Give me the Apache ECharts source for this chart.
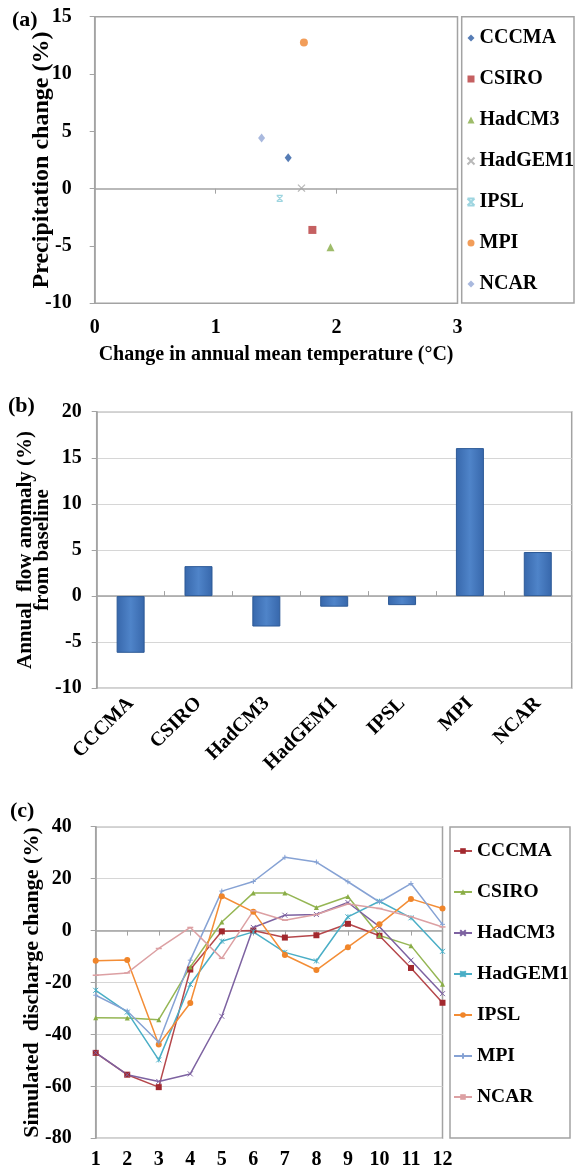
<!DOCTYPE html>
<html>
<head>
<meta charset="utf-8">
<script src="https://cdn.jsdelivr.net/npm/echarts@6.0.0/dist/echarts.min.js"></script>
<style>
  html, body { margin: 0; padding: 0; background: #fff; }
  #pa { position: absolute; left: 0; top: 0; width: 576px; height: 380px; }
  #pb { position: absolute; left: 0; top: 380px; width: 576px; height: 420px; }
  #pc { position: absolute; left: 0; top: 800px; width: 576px; height: 367px; }
</style>
</head>
<body>
<div id="pa"></div>
<div id="pb"></div>
<div id="pc"></div>
<script>
// models, shared by all three panels
var models = ['CCCMA', 'CSIRO', 'HadCM3', 'HadGEM1', 'IPSL', 'MPI', 'NCAR'];

// (a) change in annual mean temperature (degC) and precipitation change (%)
var tempChange = [1.60, 1.80, 1.95, 1.71, 1.53, 1.73, 1.38];
var precipChange = [2.7, -3.6, -5.1, 0.05, -0.85, 12.75, 4.42];

// (b) annual flow anomaly (%) from baseline
var flowAnomaly = [-6.15, 3.25, -3.3, -1.15, -0.98, 16.05, 4.78];

// (c) simulated discharge change (%) by month
var months = ['1', '2', '3', '4', '5', '6', '7', '8', '9', '10', '11', '12'];
var cccma   = [-47.1, -55.5, -60.3, -15.0, -0.3, 0.0, -2.7, -1.8, 2.6, -2.0, -14.4, -27.8];
var csiro   = [-33.6, -33.7, -34.3, -14.0, 3.3, 14.5, 14.5, 8.9, 13.1, -1.9, -5.8, -20.7];
var hadcm3  = [-47.0, -55.5, -58.1, -55.2, -33.0, 1.2, 5.9, 6.2, 10.8, 1.5, -11.4, -24.3];
var hadgem1 = [-23.0, -31.4, -49.8, -20.7, -4.1, -0.5, -8.4, -11.7, 5.3, 11.3, 4.9, -8.0];
var ipsl    = [-11.6, -11.3, -43.9, -27.9, 13.2, 7.2, -9.4, -15.2, -6.4, 2.4, 12.2, 8.5];
var mpi     = [-24.9, -31.0, -43.0, -11.4, 15.2, 18.9, 28.2, 26.4, 18.8, 11.0, 18.1, 2.4];
var ncar    = [-17.2, -16.3, -6.9, 1.2, -10.7, 7.6, 4.0, 6.2, 10.2, 8.5, 5.3, 1.4];

var FONT = '"Liberation Serif", "Times New Roman", serif';
var GRAY = '#a3a3a3';
var txt = function (size) {
    return { fontFamily: FONT, fontWeight: 'bold', fontSize: size, color: '#000' };
};
var axisLine = { show: true, lineStyle: { color: GRAY, width: 1.5 } };
var yTick = { show: true, length: 5, lineStyle: { color: GRAY } };
var gridBox = { show: true, borderColor: GRAY, borderWidth: 1.5, backgroundColor: 'transparent', outerBoundsMode: 'none' };
var panelLabel = function (s, x, y) {
    return { type: 'text', left: x, top: y, style: { text: s, font: 'bold 22px ' + FONT, fill: '#000' } };
};
var box = function (x, y, w, h) {
    return { type: 'rect', shape: { x: x, y: y, width: w, height: h }, style: { fill: 'none', stroke: GRAY, lineWidth: 1.5 }, silent: true };
};

// ---------- (a) scatter ----------
var aColors = ['#2c5ba3', '#b7383a', '#86ab45', '#a6a6a6', '#86cbd8', '#ef8530', '#93a8d6'];
var aSymbols = ['diamond', 'rect', 'triangle',
    'path://M0,0L10,10M10,0L0,10',
    'path://M0,0L10,0M0,10L10,10M0,0L10,10M10,0L0,10',
    'circle', 'diamond'];
var aSizes = [[7, 9], 8, 8, 7, 6, 8, [7, 9]];
var aSeries = models.map(function (m, i) {
    var stroke = aSymbols[i].indexOf('path://') === 0;
    return {
        name: m,
        type: 'scatter',
        data: [[tempChange[i], precipChange[i]]],
        symbol: aSymbols[i],
        symbolSize: aSizes[i],
        itemStyle: stroke
            ? { color: 'none', borderColor: aColors[i], borderWidth: 1.3 }
            : { color: aColors[i] }
    };
});

var chartA = echarts.init(document.getElementById('pa'));
chartA.setOption({
    animation: false,
    grid: Object.assign({ left: 94.7, top: 16.7, width: 362.8, height: 286.6 }, gridBox),
    xAxis: {
        type: 'value', min: 0, max: 3, interval: 1,
        axisLine: { show: true, onZero: true, lineStyle: { color: GRAY, width: 1.5 } },
        axisTick: { show: true, length: 5, lineStyle: { color: GRAY } },
        axisLabel: Object.assign({ margin: 15 }, txt(20)),
        splitLine: { show: false },
        name: 'Change in annual mean temperature (°C)',
        nameLocation: 'middle', nameGap: 42, nameMoveOverlap: false,
        nameTextStyle: txt(20)
    },
    yAxis: {
        type: 'value', min: -10, max: 15, interval: 5,
        axisLine: axisLine,
        axisTick: yTick,
        axisLabel: Object.assign({ margin: 23 }, txt(20)),
        splitLine: { show: false },
        name: 'Precipitation change (%)',
        nameLocation: 'middle', nameRotate: 90, nameGap: 41, nameMoveOverlap: false,
        nameTextStyle: txt(24)
    },
    legend: {
        orient: 'vertical', left: 465, top: 28, padding: 0,
        itemWidth: 7, itemHeight: 7, itemGap: 21,
        textStyle: txt(20),
        data: models
    },
    graphic: [panelLabel('(a)', 12, 9), box(461.7, 16.7, 112.3, 286.3)],
    series: aSeries
});

// ---------- (b) bar ----------
var chartB = echarts.init(document.getElementById('pb'));
chartB.setOption({
    animation: false,
    grid: Object.assign({ left: 96.7, top: 31.7, width: 475, height: 276.6 }, gridBox),
    xAxis: {
        type: 'category', data: models,
        axisLine: { show: true, onZero: true, lineStyle: { color: GRAY, width: 1.5 } },
        axisTick: { show: true, inside: true, length: 5, lineStyle: { color: GRAY } },
        axisLabel: Object.assign({ rotate: 45, margin: 12, interval: 0 }, txt(20))
    },
    yAxis: {
        type: 'value', min: -10, max: 20, interval: 5,
        axisLine: axisLine,
        axisTick: yTick,
        axisLabel: Object.assign({ margin: 15 }, txt(20)),
        splitLine: { show: true, lineStyle: { color: '#d6d6d6', width: 1.2 } },
        name: 'Annual  flow anomaly (%)\nfrom baseline',
        nameLocation: 'middle', nameRotate: 90, nameGap: 46, nameMoveOverlap: false,
        nameTextStyle: Object.assign({ lineHeight: 17 }, txt(21))
    },
    graphic: [panelLabel('(b)', 8, 15)],
    series: [{
        type: 'bar',
        data: flowAnomaly,
        barWidth: 28,
        itemStyle: {
            color: new echarts.graphic.LinearGradient(0, 0, 1, 0, [
                { offset: 0, color: '#3767ab' },
                { offset: 0.5, color: '#4f84c9' },
                { offset: 1, color: '#3767ab' }
            ]),
            borderColor: '#2d5a97',
            borderWidth: 1
        }
    }]
});

// ---------- (c) lines ----------
var cData = [cccma, csiro, hadcm3, hadgem1, ipsl, mpi, ncar];
var cColors = ['#b5474b', '#95b654', '#7d62a1', '#4aaec6', '#f38d36', '#86a2d4', '#dca0a3'];
var cMarker = ['#a2282e', '#8aad47', '#7d62a1', '#4aaec6', '#f0852a', '#86a2d4', '#dca0a3'];
var cSymbols = ['rect', 'triangle',
    'path://M0,0L10,10M10,0L0,10',
    'path://M0,0L10,10M10,0L0,10M5,0L5,10',
    'circle',
    'path://M5,0L5,10M0,5L10,5',
    'rect'];
var cSizes = [6, 5, 5, 5, 6, 5, [6, 1.5]];
var cSeries = models.map(function (m, i) {
    var stroke = cSymbols[i].indexOf('path://') === 0;
    return {
        name: m,
        type: 'line',
        data: cData[i],
        symbol: cSymbols[i],
        symbolSize: cSizes[i],
        showAllSymbol: true,
        lineStyle: { color: cColors[i], width: 1.5 },
        itemStyle: stroke
            ? { color: 'none', borderColor: cMarker[i], borderWidth: 1 }
            : { color: cMarker[i], borderColor: cMarker[i], borderWidth: 0 }
    };
});

var chartC = echarts.init(document.getElementById('pc'));
chartC.setOption({
    animation: false,
    grid: Object.assign({ left: 95.7, top: 26.7, width: 346.8, height: 311.6 }, gridBox),
    xAxis: {
        type: 'category', data: months, boundaryGap: false,
        axisLine: { show: true, onZero: true, lineStyle: { color: GRAY, width: 1.5 } },
        axisTick: { show: true, length: 5, lineStyle: { color: GRAY } },
        axisLabel: Object.assign({ margin: 12, interval: 0 }, txt(20))
    },
    yAxis: {
        type: 'value', min: -80, max: 40, interval: 20,
        axisLine: axisLine,
        axisTick: yTick,
        axisLabel: Object.assign({ margin: 24 }, txt(20)),
        splitLine: { show: true, lineStyle: { color: '#d6d6d6', width: 1.2 } },
        name: 'Simulated  discharge change (%)',
        nameLocation: 'middle', nameRotate: 90, nameGap: 52, nameMoveOverlap: false,
        nameTextStyle: txt(22)
    },
    legend: {
        orient: 'vertical', left: 453, top: 41, padding: 0,
        itemWidth: 18, itemHeight: 7, itemGap: 21,
        textStyle: txt(19.5),
        data: models
    },
    graphic: [panelLabel('(c)', 10, 0), box(450, 27, 120, 311)],
    series: cSeries
});
</script>
</body>
</html>
